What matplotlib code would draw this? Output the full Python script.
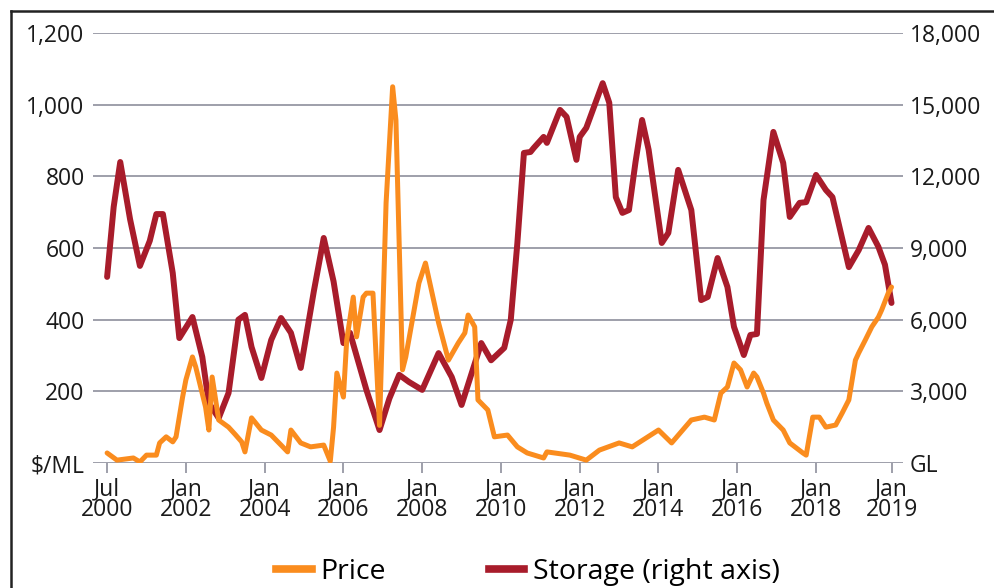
import matplotlib.pyplot as plt
from matplotlib.lines import Line2D

plt.rcParams['font.family'] = ['Open Sans', 'DejaVu Sans']

# x = months counted from the first observation (the chart's first tick)
price_month = [0, 3, 8, 10, 12, 15, 16, 18, 20, 21, 23, 24, 26, 27, 30, 31, 32, 34, 37, 39,
               41, 42, 44, 47, 50, 53, 55, 56, 59, 62, 66, 68, 69, 70, 72, 73, 75, 76, 78, 79,
               81, 83, 85, 87, 88, 90, 91, 95, 97, 101, 104, 107, 109, 110, 112, 113, 116, 118,
               122, 125, 128, 133, 134, 141, 146, 150, 156, 160, 168, 172, 178, 182, 185, 187,
               189, 191, 193, 195, 197, 198, 200, 201, 203, 206, 208, 212, 213, 215, 217, 219,
               222, 224, 226, 228, 229, 231, 233, 235, 236, 238, 239]
price = [28, 8, 14, 3, 22, 22, 56, 73, 59, 73, 184, 232, 296, 268, 156, 92, 240, 120, 100, 80,
         59, 31, 126, 92, 78, 50, 31, 92, 56, 45, 50, 5, 100, 251, 184, 343, 463, 352, 463, 474,
         474, 105, 726, 1050, 957, 260, 296, 502, 558, 391, 287, 335, 363, 413, 380, 176, 148, 73,
         78, 45, 28, 14, 31, 22, 8, 36, 56, 45, 92, 56, 120, 128, 120, 195,
         212, 279, 260, 212, 251, 240, 195, 167, 120, 92, 56, 28, 22, 128, 128, 100,
         106, 140, 176, 287, 307, 343, 380, 407, 427, 474, 491]

storage_month = [0, 2, 4, 7, 10, 13, 15, 17, 20, 22, 26, 29, 31, 34, 37, 40, 42, 44, 47, 50, 53,
                 56, 59, 63, 66, 69, 72, 74, 79, 83, 86, 89, 92, 96, 101, 105, 108, 114, 117, 121,
                 123, 125, 127, 129, 130, 133, 134, 138, 140, 143, 144, 146, 151, 153, 155, 157,
                 159, 161, 163, 165, 169, 171, 174, 178, 181, 183, 186, 189, 191, 194, 196, 198,
                 200, 203, 206, 208, 211, 213, 216, 219, 221, 226, 229, 232, 235, 237, 239]
storage = [7790, 10720, 12600, 10200, 8250, 9300, 10420, 10420, 7950, 5230, 6110, 4440, 2510, 1880,
           2930, 6000, 6200, 4860, 3560, 5150, 6070, 5450, 3980, 7200, 9420, 7600, 5020, 5450,
           3060, 1380, 2700, 3690, 3390, 3060, 4600, 3600, 2430, 5020, 4300, 4820,
           6000, 9210, 12980, 13020, 13190, 13650, 13400, 14780, 14490, 12690, 13650, 14030,
           15900, 15080, 11130, 10470, 10590, 12600, 14360, 13110, 9210, 9630, 12270, 10590, 6820,
           6950, 8580, 7370, 5700, 4520, 5360, 5400, 11010, 13860, 12560, 10300, 10890, 10920,
           12060, 11430, 11130, 8200, 8910, 9840, 9050, 8300, 6700]

tick_month = [0, 24, 48, 72, 96, 120, 144, 168, 192, 216, 239]
tick_labels = ['Jul\n2000', 'Jan\n2002', 'Jan\n2004', 'Jan\n2006', 'Jan\n2008', 'Jan\n2010',
               'Jan\n2012', 'Jan\n2014', 'Jan\n2016', 'Jan\n2018', 'Jan\n2019']
price_ticks = [0, 200, 400, 600, 800, 1000, 1200]
price_tick_labels = ['$/ML', '200', '400', '600', '800', '1,000', '1,200']
storage_ticks = [0, 3000, 6000, 9000, 12000, 15000, 18000]
storage_tick_labels = ['GL', '3,000', '6,000', '9,000', '12,000', '15,000', '18,000']

orange = '#FA8C1E'
red = '#A81C2B'
grid_col = '#8D8F9C'
txt_col = '#1a1a1a'
W, H = 994, 588

fig = plt.figure(figsize=(W / 100, H / 100), dpi=100)
ax = fig.add_axes([93 / W, (H - 463) / H, (903 - 93) / W, (463 - 33) / H])
ax2 = ax.twinx()

# storage axis sits underneath so the price line is drawn on top
ax.set_zorder(ax2.get_zorder() + 1)
ax.patch.set_visible(False)

ax2.plot(storage_month, storage, color=red, lw=4.3, solid_joinstyle='round',
         solid_capstyle='round')
ax2.set_ylim(0, 18000)
ax2.set_yticks(storage_ticks, storage_tick_labels)
ax2.grid(axis='y', color=grid_col, lw=1.2)
ax2.set_axisbelow(True)
ax2.tick_params(axis='y', length=0, pad=5, labelsize=16.5, labelcolor=txt_col)

ax.plot(price_month, price, color=orange, lw=3.6, solid_joinstyle='round',
        solid_capstyle='round')
ax.set_xlim(-4.3, 242.5)
ax.set_ylim(0, 1200)
ax.set_yticks(price_ticks, price_tick_labels)
ax.set_xticks(tick_month, tick_labels)
ax.tick_params(axis='y', length=0, pad=6, labelsize=16.5, labelcolor=txt_col)
ax.tick_params(axis='x', length=7, width=1.2, color=grid_col, pad=3, labelsize=16.5,
               labelcolor=txt_col)
for lab in ax.get_xticklabels():
    lab.set_linespacing(0.85)

for a in (ax, ax2):
    for s in a.spines.values():
        s.set_visible(False)

# outer frame (cut off at the right and bottom in the original)
fig.add_artist(Line2D([11 / W, 11 / W], [0, 1 - 11 / H], color='#222222', lw=1.8))
fig.add_artist(Line2D([11 / W, 1], [1 - 11 / H, 1 - 11 / H], color='#222222', lw=1.8))

handles = [Line2D([], [], color=orange, lw=5.5), Line2D([], [], color=red, lw=5.5)]
fig.legend(handles, ['Price', 'Storage (right axis)'], loc='center',
           bbox_to_anchor=(528 / W, 1 - 572 / H), ncol=2, frameon=False, fontsize=20.5,
           handlelength=1.25, handletextpad=0.3, columnspacing=3.6)

fig.savefig('out.png', dpi=100)
